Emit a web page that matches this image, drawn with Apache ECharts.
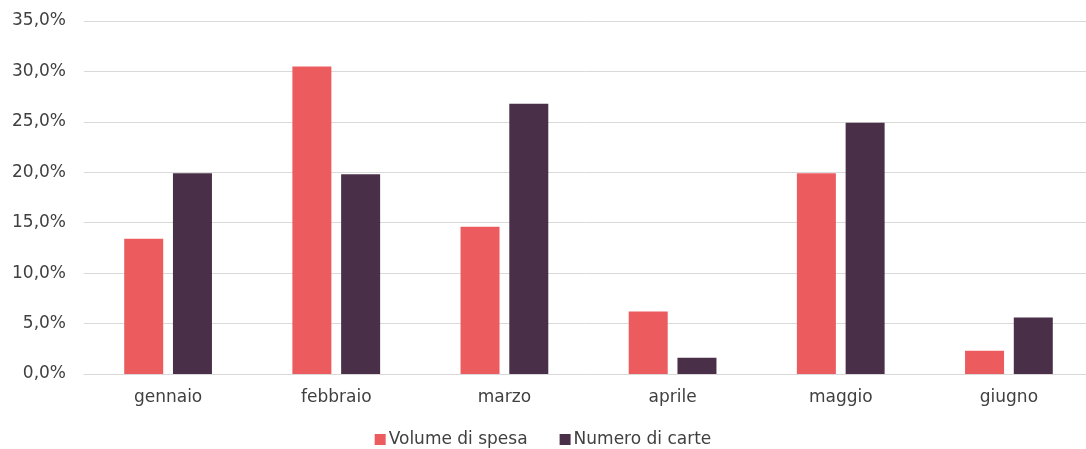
<!DOCTYPE html>
<html>
<head>
<meta charset="utf-8">
<script src="https://cdn.jsdelivr.net/npm/echarts@6/dist/echarts.min.js"></script>
<style>
  html, body { margin: 0; padding: 0; background: #fff; }
  #chart { width: 1086px; height: 449px; }
</style>
</head>
<body>
<div id="chart"></div>
<script>
const categories = ["gennaio", "febbraio", "marzo", "aprile", "maggio", "giugno"];
const volumeSpesa = [13.4, 30.5, 14.6, 6.2, 19.9, 2.3];
const numeroCarte = [19.9, 19.8, 26.8, 1.6, 24.9, 5.6];
const seriesNames = ["Volume di spesa", "Numero di carte"];

const font = "'DejaVu Sans', sans-serif";
const myChart = echarts.init(document.getElementById("chart"));
const option = {
  animation: false,
  color: ["#EC5C5F", "#4A2F48"],
  textStyle: { fontFamily: font },
  legend: {
    data: seriesNames,
    top: 431,
    left: "center",
    padding: 0,
    icon: "rect",
    itemWidth: 11,
    itemHeight: 11,
    itemGap: 32,
    textStyle: { fontSize: 17, color: "#404040", fontFamily: font, padding: [0, 0, 0, -2] }
  },
  grid: { left: 84, width: 1009, top: 21, bottom: 75, outerBoundsMode: "none" },
  xAxis: {
    type: "category",
    data: categories,
    axisTick: { show: false },
    axisLine: { lineStyle: { color: "#d9d9d9", width: 1 } },
    axisLabel: { fontSize: 17, color: "#404040", margin: 15, fontFamily: font }
  },
  yAxis: {
    type: "value",
    min: 0,
    max: 35,
    interval: 5,
    axisLine: { show: false },
    axisTick: { show: false },
    splitLine: { lineStyle: { color: "#d9d9d9", width: 1 } },
    axisLabel: {
      fontSize: 17,
      color: "#404040",
      margin: 18,
      fontFamily: font,
      formatter: v => v.toFixed(1).replace(".", ",") + "%"
    }
  },
  series: [
    { name: seriesNames[0], type: "bar", data: volumeSpesa, barWidth: 39, barGap: "25%" },
    { name: seriesNames[1], type: "bar", data: numeroCarte, barWidth: 39, barGap: "25%" }
  ]
};
myChart.setOption(option);
</script>
</body>
</html>
